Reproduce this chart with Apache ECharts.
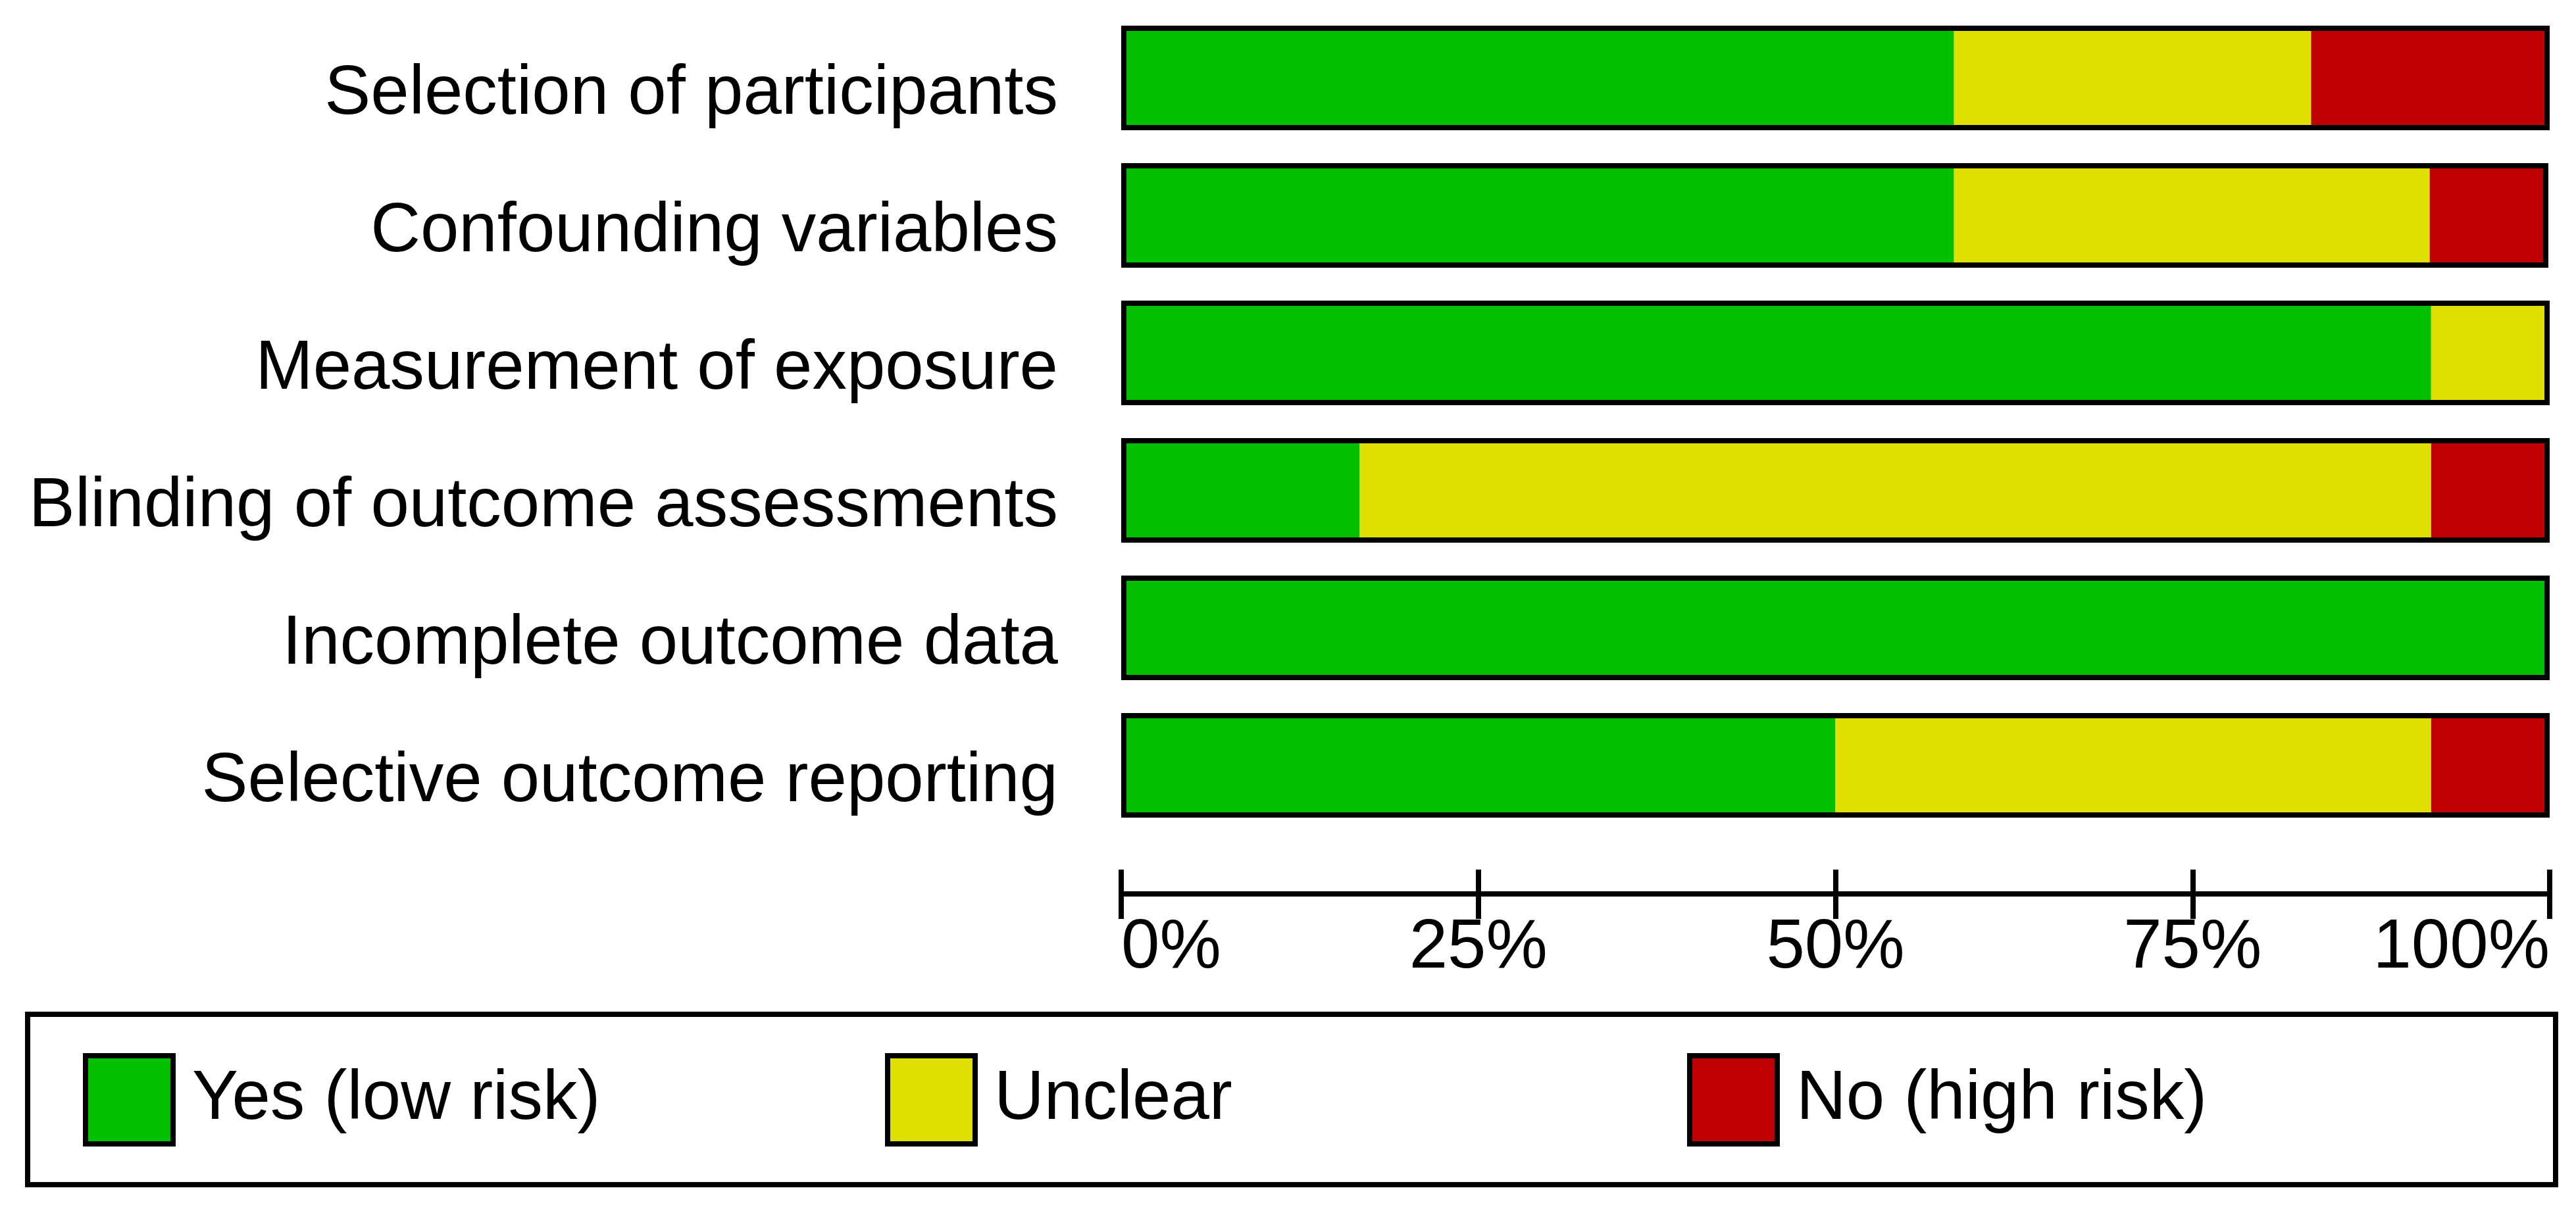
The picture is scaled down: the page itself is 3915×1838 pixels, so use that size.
<!DOCTYPE html>
<html>
<head>
<meta charset="utf-8">
<script src="https://cdn.jsdelivr.net/npm/echarts@6/dist/echarts.min.js"></script>
<style>
html,body{margin:0;padding:0;background:#fff;}
#chart{width:3915px;height:1838px;}
</style>
</head>
<body>
<div id="chart"></div>
<script>
const categories = ['Selection of participants', 'Confounding variables', 'Measurement of exposure', 'Blinding of outcome assessments', 'Incomplete outcome data', 'Selective outcome reporting'];
const yesLow = [58.3, 58.3, 91.7, 16.7, 100, 50.0];
const unclear = [25.0, 33.3, 8.3, 75.0, 0, 41.7];
const noHigh = [16.7, 8.3, 0, 8.3, 0, 8.3];
const seriesNames = ['Yes (low risk)', 'Unclear', 'No (high risk)'];
const xTicks = [0, 25, 50, 75, 100];

const FONT = "'Liberation Sans', Arial, sans-serif";
const totals = yesLow.map((v, i) => +(v + unclear[i] + noHigh[i]).toFixed(1));
const chart = echarts.init(document.getElementById('chart'), null, {renderer: 'canvas'});
const BAR_W = 159;
const LEGEND_LEFT = [126, 1345, 2564];

chart.setOption({
  animation: false,
  backgroundColor: '#ffffff',
  textStyle: {fontFamily: FONT},
  grid: {left: 1704, right: 40, top: 14, bottom: 570, containLabel: false},
  xAxis: [{
    type: 'value', min: xTicks[0], max: xTicks[xTicks.length - 1], interval: 25,
    position: 'bottom', offset: 91,
    splitLine: {show: false},
    axisLine: {show: true, lineStyle: {color: '#000', width: 8}},
    axisTick: {show: true, length: 38, lineStyle: {color: '#000', width: 8}},
    axisLabel: {
      formatter: '{value}%', fontSize: 105, fontFamily: FONT, color: '#000',
      margin: 83, verticalAlign: 'middle',
      alignMinLabel: 'left', alignMaxLabel: 'right'
    }
  }, {
    type: 'value', min: xTicks[0], max: xTicks[xTicks.length - 1], interval: 25,
    position: 'bottom', offset: 91,
    splitLine: {show: false},
    axisLine: {show: false},
    axisTick: {show: true, inside: true, length: 37, lineStyle: {color: '#000', width: 8}},
    axisLabel: {show: false}
  }],
  yAxis: {
    type: 'category', inverse: true, data: categories,
    axisLine: {show: false}, axisTick: {show: false}, splitLine: {show: false},
    axisLabel: {fontSize: 105, fontFamily: FONT, color: '#000', margin: 96,
      verticalAlign: 'top', lineHeight: 52}
  },
  legend: seriesNames.map((n, i) => ({
    data: [n], orient: 'horizontal', left: LEGEND_LEFT[i], top: 1601,
    padding: 0, itemGap: 0, itemWidth: 133, itemHeight: 134, icon: 'rect',
    itemStyle: {borderColor: '#000', borderWidth: 8},
    selectedMode: false,
    textStyle: {fontSize: 105, fontFamily: FONT, color: '#000', padding: [0, 0, 0, 24]}
  })),
  graphic: [{
    type: 'rect', z: -1,
    shape: {x: 42, y: 1542, width: 3842, height: 259},
    style: {fill: 'none', stroke: '#000', lineWidth: 8}
  }],
  series: [
    {name: seriesNames[0], type: 'bar', stack: 'risk', data: yesLow, barWidth: BAR_W, itemStyle: {color: '#00C000'}},
    {name: seriesNames[1], type: 'bar', stack: 'risk', data: unclear, barWidth: BAR_W, itemStyle: {color: '#E0E000'}},
    {name: seriesNames[2], type: 'bar', stack: 'risk', data: noHigh, barWidth: BAR_W, itemStyle: {color: '#C00000'}},
    {name: 'outline', type: 'bar', data: totals, barWidth: BAR_W, barGap: '-100%', z: 5,
      itemStyle: {color: 'rgba(0,0,0,0)', borderColor: '#000', borderWidth: 8}, silent: true}
  ]
});
</script>
</body>
</html>
